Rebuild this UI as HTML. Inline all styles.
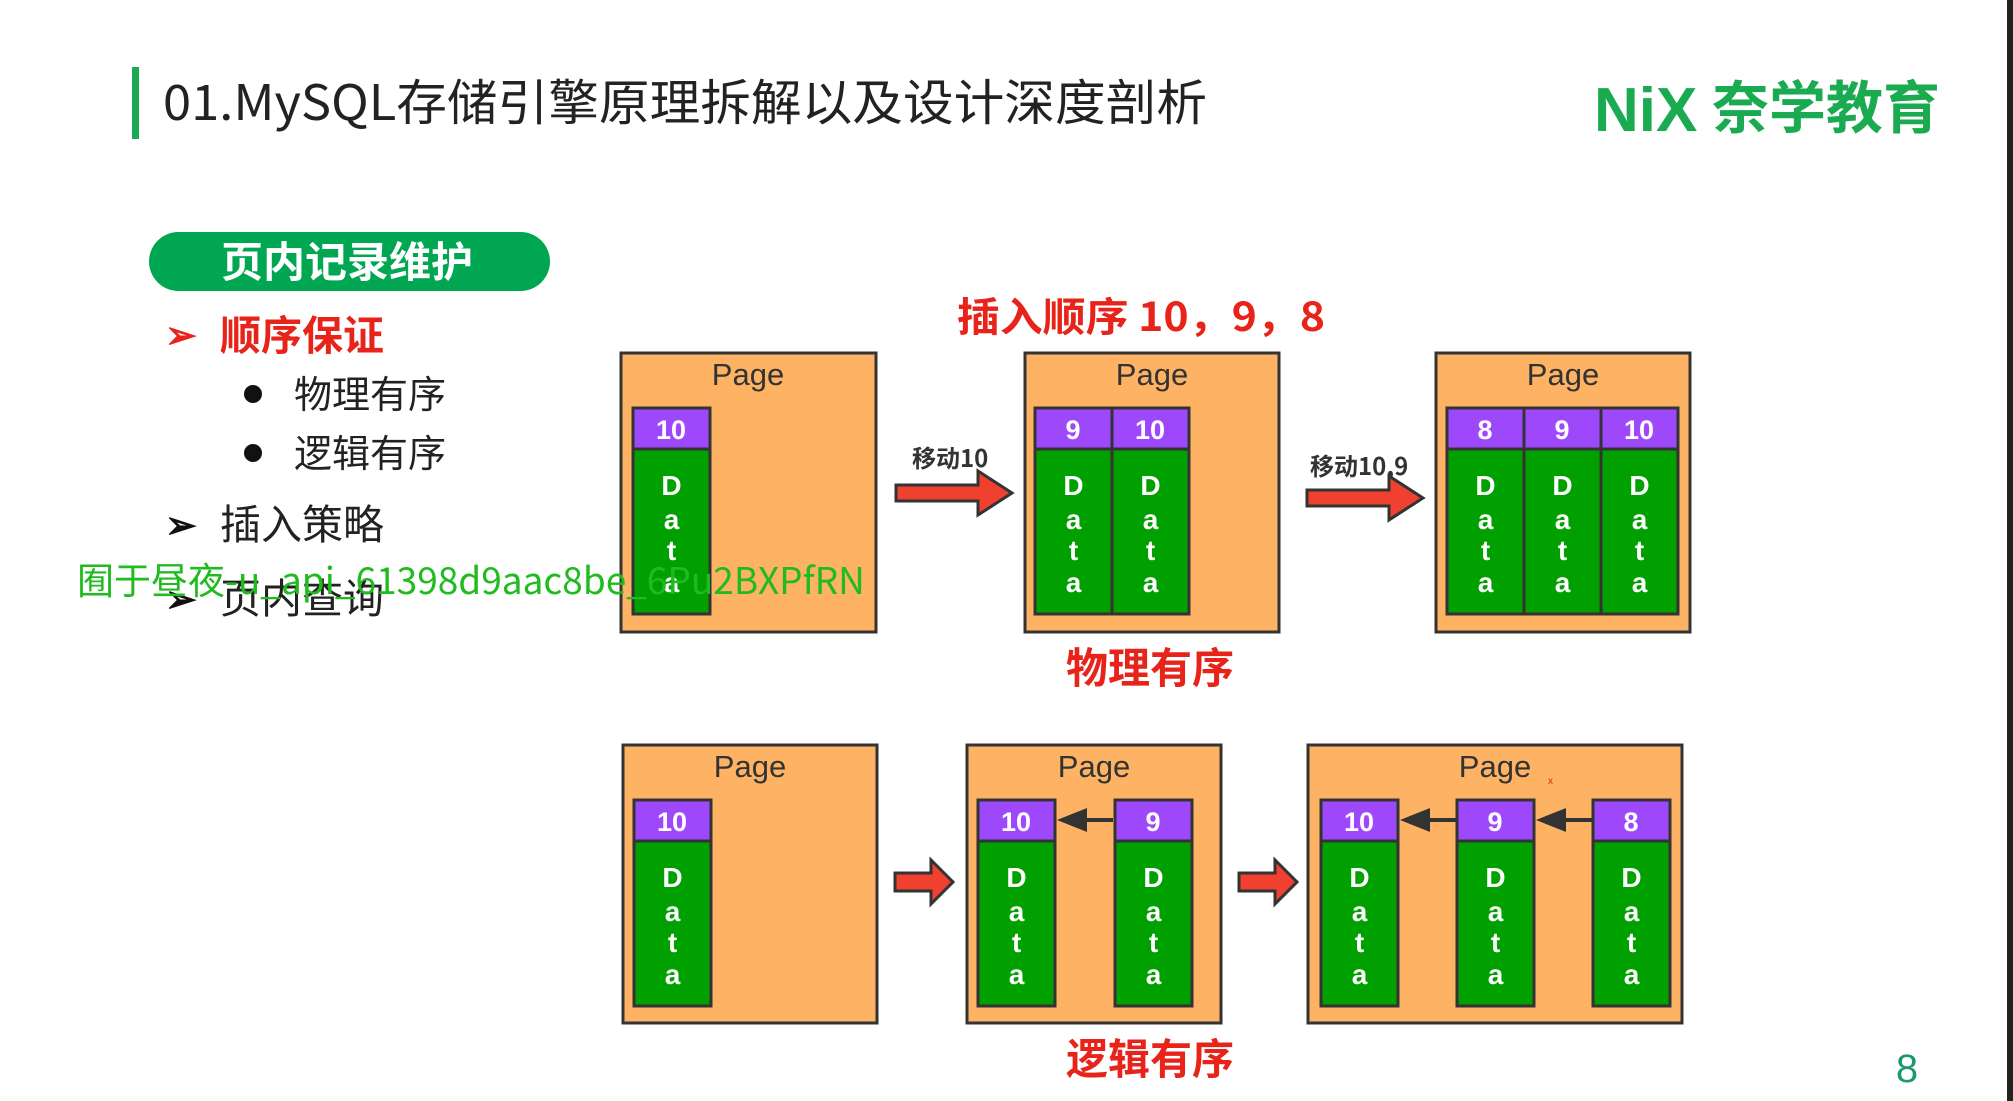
<!DOCTYPE html>
<html><head><meta charset="utf-8"><style>
html,body{margin:0;padding:0;background:#fff;}
svg{display:block;}
text{font-family:"Liberation Sans","Noto Sans CJK SC",sans-serif;}
.c{font-family:"Noto Sans CJK SC","Liberation Sans",sans-serif;}
</style></head><body>
<svg width="2013" height="1101" viewBox="0 0 2013 1101" xmlns="http://www.w3.org/2000/svg">
<defs>
<g id="col">
<rect x="0" y="0" width="77" height="41" fill="#9d48fb" stroke="#333" stroke-width="3"/>
<rect x="0" y="41" width="77" height="165" fill="#00a000" stroke="#333" stroke-width="3"/>
<g fill="#fff" font-weight="bold" font-size="28" text-anchor="middle" font-family="Liberation Sans,sans-serif">
<text x="38.5" y="87">D</text><text x="38.5" y="121">a</text><text x="38.5" y="152">t</text><text x="38.5" y="184">a</text>
</g>
</g>
<g id="rarrow">
<path d="M0,-8 L82,-8 L82,-22 L116,0 L82,22 L82,8 L0,8 Z" fill="#f04030" stroke="#333" stroke-width="3"/>
</g>
<g id="sarrow">
<path d="M0,-9 L36,-9 L36,-22 L58,0 L36,22 L36,9 L0,9 Z" fill="#f04030" stroke="#333" stroke-width="3"/>
</g>
</defs>

<rect x="2007" y="0" width="6" height="1101" fill="#222"/>

<!-- title -->
<rect x="132" y="67" width="7" height="72" fill="#1aaa55"/>
<text class="c" x="163" y="120" font-size="49" fill="#222" textLength="1044" lengthAdjust="spacingAndGlyphs">01.MySQL存储引擎原理拆解以及设计深度剖析</text>

<!-- logo -->
<text x="1594" y="131" font-size="62" font-weight="bold" fill="#1aaa50" font-family="Liberation Sans,sans-serif">NiX</text>
<text class="c" x="1712" y="128" font-size="57" font-weight="bold" fill="#1aaa50">奈学教育</text>

<!-- pill -->
<rect x="149" y="232" width="401" height="59" rx="29.5" fill="#00a651"/>
<text class="c" x="221" y="277" font-size="42" font-weight="bold" fill="#fff">页内记录维护</text>

<text x="165" y="348" font-size="38" font-weight="bold" fill="#e8231a">➢</text>
<text class="c" x="220" y="350" font-size="41" font-weight="bold" fill="#e8231a">顺序保证</text>
<circle cx="253" cy="394" r="9" fill="#111"/>
<text class="c" x="294" y="408" font-size="38" fill="#222">物理有序</text>
<circle cx="253" cy="453" r="9" fill="#111"/>
<text class="c" x="294" y="467" font-size="38" fill="#222">逻辑有序</text>
<text x="165" y="538" font-size="38" font-weight="bold" fill="#111">➢</text>
<text class="c" x="220" y="539" font-size="41" fill="#222">插入策略</text>
<text x="165" y="612" font-size="38" font-weight="bold" fill="#111">➢</text>
<text class="c" x="220" y="613" font-size="41" fill="#222">页内查询</text>

<!-- top title -->
<text class="c" x="957" y="331" font-size="40" font-weight="bold" fill="#e8231a" textLength="368" lengthAdjust="spacingAndGlyphs">插入顺序 10，9，8</text>

<!-- pages -->
<g fill="#fdb363" stroke="#333" stroke-width="3">
<rect x="621" y="353" width="255" height="279"/>
<rect x="1025" y="353" width="254" height="279"/>
<rect x="1436" y="353" width="254" height="279"/>
<rect x="623" y="745" width="254" height="278"/>
<rect x="967" y="745" width="254" height="278"/>
<rect x="1308" y="745" width="374" height="278"/>
</g>
<g font-size="31" fill="#333" text-anchor="middle">
<text x="748" y="385">Page</text>
<text x="1152" y="385">Page</text>
<text x="1563" y="385">Page</text>
<text x="750" y="777">Page</text>
<text x="1094" y="777">Page</text>
<text x="1495" y="777">Page</text>
</g>

<g font-size="27" font-weight="bold" fill="#fff" text-anchor="middle">
<use href="#col" x="633" y="408"/><text x="671" y="439">10</text>
<use href="#col" x="1035" y="408"/><text x="1073" y="439">9</text>
<use href="#col" x="1112" y="408"/><text x="1150" y="439">10</text>
<use href="#col" x="1447" y="408"/><text x="1485" y="439">8</text>
<use href="#col" x="1524" y="408"/><text x="1562" y="439">9</text>
<use href="#col" x="1601" y="408"/><text x="1639" y="439">10</text>

<use href="#col" x="634" y="800"/><text x="672" y="831">10</text>
<use href="#col" x="978" y="800"/><text x="1016" y="831">10</text>
<use href="#col" x="1115" y="800"/><text x="1153" y="831">9</text>
<use href="#col" x="1321" y="800"/><text x="1359" y="831">10</text>
<use href="#col" x="1457" y="800"/><text x="1495" y="831">9</text>
<use href="#col" x="1593" y="800"/><text x="1631" y="831">8</text>
</g>

<!-- black arrows -->
<g stroke="#333" stroke-width="4">
<line x1="1085" y1="820" x2="1113" y2="820"/>
<line x1="1428" y1="820" x2="1456" y2="820"/>
<line x1="1564" y1="820" x2="1592" y2="820"/>
</g>
<g fill="#333">
<path d="M1057,820 L1087,808 L1087,832 Z"/>
<path d="M1400,820 L1430,808 L1430,832 Z"/>
<path d="M1536,820 L1566,808 L1566,832 Z"/>
</g>

<!-- red arrows -->
<use href="#rarrow" x="896" y="493"/>
<use href="#rarrow" x="1307" y="498"/>
<use href="#sarrow" x="895" y="882"/>
<use href="#sarrow" x="1239" y="882"/>
<text class="c" x="912" y="467" font-size="24" font-weight="bold" fill="#333">移动10</text>
<text class="c" x="1310" y="475" font-size="24" font-weight="bold" fill="#333">移动10,9</text>

<text class="c" x="1066" y="683" font-size="42" font-weight="bold" fill="#e8231a">物理有序</text>
<text class="c" x="1066" y="1074" font-size="42" font-weight="bold" fill="#e8231a">逻辑有序</text>
<text x="1548" y="784" font-size="10" fill="#e8231a">x</text>

<text x="1907" y="1082" font-size="40" fill="#1a9a6a" text-anchor="middle">8</text>

<!-- watermark -->
<text class="c" x="77" y="594" font-size="37" fill="#1fbb1f">囿于昼夜-u_api_61398d9aac8be_6Pu2BXPfRN</text>
</svg>
</body></html>
